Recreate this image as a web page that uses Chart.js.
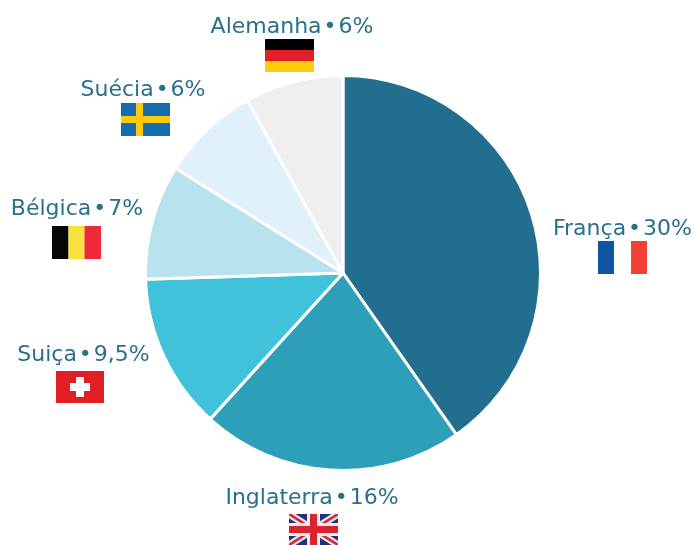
<!DOCTYPE html>
<html lang="pt">
<head>
<meta charset="utf-8">
<style>html,body{margin:0;padding:0;background:#fff}canvas{display:block}</style>
<script src="https://cdn.jsdelivr.net/npm/chart.js@4"></script>
</head>
<body>
<canvas id="c" width="694" height="545"></canvas>
<script>
const categories = ["França","Inglaterra","Suiça","Bélgica","Suécia","Alemanha"];
const values = [30,16,9.5,7,6,6];
const valueLabels = ["30%","16%","9,5%","7%","6%","6%"];
const colors = ["#216e8e","#2e9fb8","#40c3da","#b8e2ee","#e0f1fa","#efefef"];
const flagKeys = ["fr","uk","ch","be","se","de"];
const labelCenters = [[622.5,235],[312,504],[83.5,361],[77,215],[143,96],[292,33]];
const flagOrigins = [[598,241],[289,514],[56,371],[52,226],[121,103],[265,39]];
const FW = 49, FH = 33;

const flags = {
  fr(g,x,y){
    g.fillStyle="#0f55a3";g.fillRect(x,y,16,FH);
    g.fillStyle="#fff";g.fillRect(x+16,y,17,FH);
    g.fillStyle="#f34234";g.fillRect(x+33,y,16,FH);
  },
  be(g,x,y){
    g.fillStyle="#050505";g.fillRect(x,y,16.5,FH);
    g.fillStyle="#f9e13e";g.fillRect(x+16.5,y,16,FH);
    g.fillStyle="#f02a3a";g.fillRect(x+32.5,y,16.5,FH);
  },
  de(g,x,y){
    g.fillStyle="#000";g.fillRect(x,y,FW,11);
    g.fillStyle="#e21f26";g.fillRect(x,y+11,FW,11);
    g.fillStyle="#ffcc0b";g.fillRect(x,y+22,FW,11);
  },
  se(g,x,y){
    g.fillStyle="#146cae";g.fillRect(x,y,FW,FH);
    g.fillStyle="#fdc90c";g.fillRect(x+15,y,7,FH);g.fillRect(x,y+13,FW,7);
  },
  ch(g,x,y){
    g.fillStyle="#e21f26";g.fillRect(x,y,FW-1,FH-1);
    g.fillStyle="#fff";g.fillRect(x+20,y+6,8,20);g.fillRect(x+14,y+12,20,8);
  },
  uk(g,x,y){
    g.save();g.beginPath();g.rect(x,y,FW,31);g.clip();
    g.fillStyle="#26307a";g.fillRect(x,y,FW,31);
    g.lineCap="butt";
    g.strokeStyle="#e9e4ec";g.lineWidth=7;
    g.beginPath();g.moveTo(x,y);g.lineTo(x+FW,y+31);g.moveTo(x+FW,y);g.lineTo(x,y+31);g.stroke();
    g.strokeStyle="#d9232e";g.lineWidth=2.5;
    g.beginPath();g.moveTo(x,y);g.lineTo(x+FW,y+31);g.moveTo(x+FW,y);g.lineTo(x,y+31);g.stroke();
    g.fillStyle="#f3eef2";g.fillRect(x+18,y,13,31);g.fillRect(x,y+9,FW,13);
    g.fillStyle="#d9232e";g.fillRect(x+21,y,7,31);g.fillRect(x,y+12,FW,7);
    g.restore();
  }
};

const labelPlugin = {
  id:"countryLabels",
  afterDraw(chart){
    const g = chart.ctx;
    categories.forEach((name,i)=>{
      g.save();
      g.fillStyle = "#2a6f8e";
      g.font = '22px "DejaVu Sans"';
      g.letterSpacing = "0px";
      g.wordSpacing = "-5px";
      g.textBaseline = "alphabetic";
      g.textAlign = "center";
      const [lx,ly] = labelCenters[i];
      g.fillText(name+" • "+valueLabels[i], lx, ly);
      g.restore();
      const [fx,fy] = flagOrigins[i];
      flags[flagKeys[i]](g,fx,fy);
    });
  }
};

new Chart(document.getElementById("c"),{
  type:"pie",
  data:{labels:categories,datasets:[{data:values,backgroundColor:colors,borderColor:"#fff",borderWidth:3}]},
  options:{
    responsive:false,animation:false,
    layout:{padding:{left:0,right:8,top:74,bottom:73}},
    plugins:{legend:{display:false},tooltip:{enabled:false}}
  },
  plugins:[labelPlugin]
});
</script>
</body>
</html>
